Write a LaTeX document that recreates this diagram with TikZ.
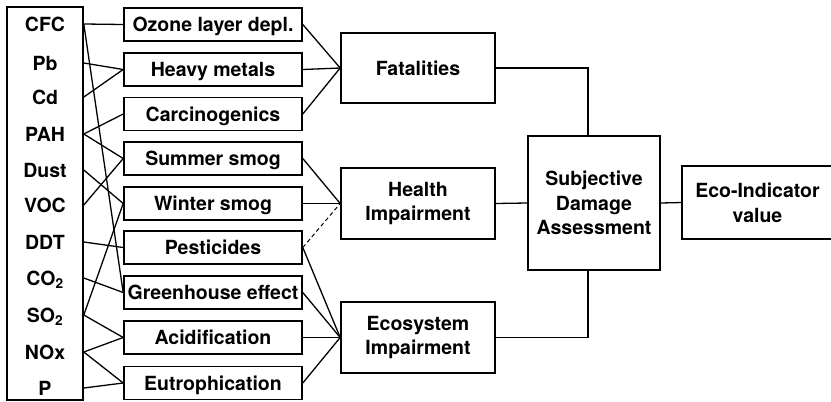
\documentclass[tikz,border=0pt]{standalone}
\usepackage{fontspec}
\setmainfont{TeX Gyre Heros}
\begin{document}
\begin{tikzpicture}[x=1pt,y=-1pt,
  font=\fontsize{19.5}{24.8}\selectfont\bfseries,
  box/.style={draw,line width=1.6pt,inner sep=0pt,align=center},
  effect/.style={box,minimum width=178pt,minimum height=33pt,text height=14pt,text depth=0pt},
  damage/.style={box,minimum width=154pt,minimum height=71pt},
  substance/.style={inner sep=0pt,text height=14pt,text depth=0pt},
  link/.style={line width=1.3pt},
  weak/.style={line width=1pt,dash pattern=on 4pt off 3pt}]
\useasboundingbox (0,0) rectangle (831,402);

% substances
\node[box,minimum width=76pt,minimum height=393pt] (src) at (45,203.5) {};
\node[substance] (cfc)  at (45,24)  {CFC};
\node[substance] (pb)   at (45,63)  {Pb};
\node[substance] (cd)   at (45,97)  {Cd};
\node[substance] (pah)  at (45,134) {PAH};
\node[substance] (dust) at (45,170) {Dust};
\node[substance] (voc)  at (45,205) {VOC};
\node[substance] (ddt)  at (45,242) {DDT};
\node[substance] (co2)  at (45,278) {CO\textsubscript{2}};
\node[substance] (so2)  at (45,315) {SO\textsubscript{2}};
\node[substance] (nox)  at (45,352) {NOx};
\node[substance] (p)    at (45,388) {P};

% effects
\node[effect] (ozone) at (213,24.5)  {Ozone layer depl.};
\node[effect] (heavy) at (213,69.5)  {Heavy metals};
\node[effect] (carc)  at (213,114)   {Carcinogenics};
\node[effect] (summ)  at (213,158.5) {Summer smog};
\node[effect] (wint)  at (213,203.5) {Winter smog};
\node[effect] (pest)  at (213,247.5) {Pesticides};
\node[effect] (green) at (213,292.5) {Greenhouse effect};
\node[effect] (acid)  at (213,337.5) {Acidification};
\node[effect] (eutr)  at (213,383)   {Eutrophication};

% damage categories
\node[damage,minimum height=70pt] (fat) at (418,68) {Fatalities};
\node[damage] (health) at (418,203.5) {Health\\Impairment};
\node[damage] (eco)    at (418,337.5) {Ecosystem\\Impairment};

% evaluation
\node[box,minimum width=132pt,minimum height=134pt] (sda) at (594,203) {Subjective\\Damage\\Assessment};
\node[box,draw=none,minimum width=149pt,minimum height=71pt] (ind) at (757.5,202.5) {Eco-Indicator\\value};
% the indicator frame runs on past the right margin
\draw[line width=1.6pt] (ind.south east) ++(30pt,0) -| (ind.north west) -- ++(190pt,0);

% substance -> effect
\draw[link] (src.east |- cfc)  -- (ozone.west);
\draw[link] (src.east |- cfc)  -- (green.west);
\draw[link] (src.east |- pb)   -- (heavy.west);
\draw[link] (src.east |- cd)   -- (heavy.west);
\draw[link] (src.east |- pah)  -- (carc.west);
\draw[link] (src.east |- pah)  -- (summ.west);
\draw[link] (src.east |- dust) -- (wint.west);
\draw[link] (src.east |- voc)  -- (summ.west);
\draw[link] (src.east |- ddt)  -- (pest.west);
\draw[link] (src.east |- co2)  -- (green.west);
\draw[link] (src.east |- so2)  -- (wint.west);
\draw[link] (src.east |- so2)  -- (acid.west);
\draw[link] (src.east |- nox)  -- (acid.west);
\draw[link] (src.east |- nox)  -- (eutr.west);
\draw[link] (src.east |- p)    -- (eutr.west);

% effect -> damage
\draw[link] (ozone.east) -- (fat.west);
\draw[link] (heavy.east) -- (fat.west);
\draw[link] (carc.east)  -- (fat.west);
\draw[link] (summ.east)  -- (health.west);
\draw[link] (wint.east)  -- (health.west);
\draw[weak] (pest.east)  -- (health.west);
\draw[link] (pest.east)  -- (eco.west);
\draw[link] (green.east) -- (eco.west);
\draw[link] (acid.east)  -- (eco.west);
\draw[link] (eutr.east)  -- (eco.west);

% damage -> assessment -> indicator
\draw[link] (fat.east) -| ([xshift=-6pt]sda.north);
\draw[link] (health.east) -- (sda.west);
\draw[link] (eco.east) -| ([xshift=-6pt]sda.south);
\draw[link] (sda.east) -- (ind.west);
\end{tikzpicture}
\end{document}
